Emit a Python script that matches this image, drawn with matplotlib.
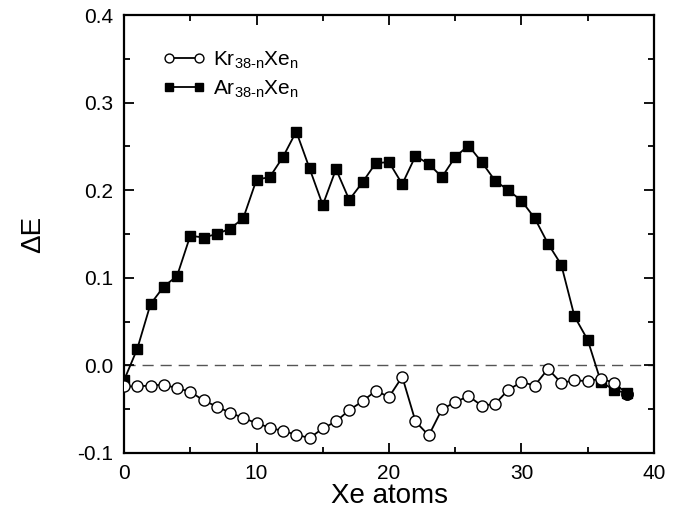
import matplotlib
matplotlib.use("Agg")
import matplotlib.pyplot as plt
from matplotlib.ticker import MultipleLocator

plt.rcParams['font.family'] = ['Liberation Sans', 'DejaVu Sans']
plt.rcParams['mathtext.fontset'] = 'custom'
plt.rcParams['mathtext.rm'] = 'Liberation Sans'
plt.rcParams['mathtext.default'] = 'regular'

# Number of Xe atoms
n_xe = list(range(39))

# Kr(38-n)Xe(n) energies
kr_xe = [-0.024, -0.024, -0.023, -0.022, -0.026, -0.030, -0.040, -0.047, -0.054, -0.060,
         -0.066, -0.071, -0.075, -0.079, -0.083, -0.072, -0.064, -0.051, -0.041, -0.029,
         -0.036, -0.013, -0.064, -0.080, -0.050, -0.042, -0.035, -0.046, -0.044, -0.028,
         -0.019, -0.023, -0.004, -0.020, -0.017, -0.018, -0.015, -0.020, -0.033]

# Ar(38-n)Xe(n) energies
ar_xe = [-0.017, 0.019, 0.070, 0.090, 0.102, 0.148, 0.146, 0.150, 0.156, 0.168,
         0.212, 0.215, 0.238, 0.267, 0.225, 0.183, 0.224, 0.189, 0.209, 0.231,
         0.232, 0.207, 0.239, 0.230, 0.215, 0.238, 0.251, 0.232, 0.211, 0.200,
         0.188, 0.168, 0.139, 0.115, 0.056, 0.029, -0.019, -0.028, -0.032]

fig = plt.figure(figsize=(6.83, 5.14), dpi=100)
ax = fig.add_axes([0.1816, 0.1187, 0.7759, 0.8521])

ax.axhline(0, color='#555555', linestyle=(0, (8, 5)), linewidth=1.0, zorder=1)

ax.plot(n_xe, kr_xe, color='black', linewidth=1.3, marker='o', markersize=8,
        markerfacecolor='white', markeredgecolor='black', markeredgewidth=1.0,
        label=r'Kr$_{38\text{-}n}$Xe$_n$', zorder=3)
ax.plot(n_xe, ar_xe, color='black', linewidth=1.3, marker='s', markersize=6.5,
        markerfacecolor='black', markeredgecolor='black',
        label=r'Ar$_{38\text{-}n}$Xe$_n$', zorder=2)
# last point: both series overlap, drawn as a filled circle
ax.plot(n_xe[-1:], kr_xe[-1:], linestyle='none', marker='o', markersize=8,
        color='black', zorder=4)

ax.set_xlim(0, 40)
ax.set_ylim(-0.1, 0.4)
ax.xaxis.set_major_locator(MultipleLocator(10))
ax.xaxis.set_minor_locator(MultipleLocator(5))
ax.yaxis.set_major_locator(MultipleLocator(0.1))
ax.yaxis.set_minor_locator(MultipleLocator(0.05))
ax.yaxis.set_major_formatter(plt.FuncFormatter(lambda v, p: f'{v:.1f}'))

ax.tick_params(which='both', direction='in', top=True, right=True, width=1.3)
ax.tick_params(which='major', length=7, labelsize=15, pad=8)
ax.tick_params(which='minor', length=4)
for s in ax.spines.values():
    s.set_linewidth(1.6)

ax.set_xlabel('Xe atoms', fontsize=20, labelpad=0)
ax.set_ylabel('ΔE', fontsize=20, labelpad=22)

ax.legend(loc='upper left', bbox_to_anchor=(0.058, 0.94), frameon=False,
          numpoints=2, handlelength=2.0, handletextpad=0.4, fontsize=15,
          markerscale=0.8, labelspacing=0.35, borderaxespad=0)

fig.savefig('out.png', dpi=100)
